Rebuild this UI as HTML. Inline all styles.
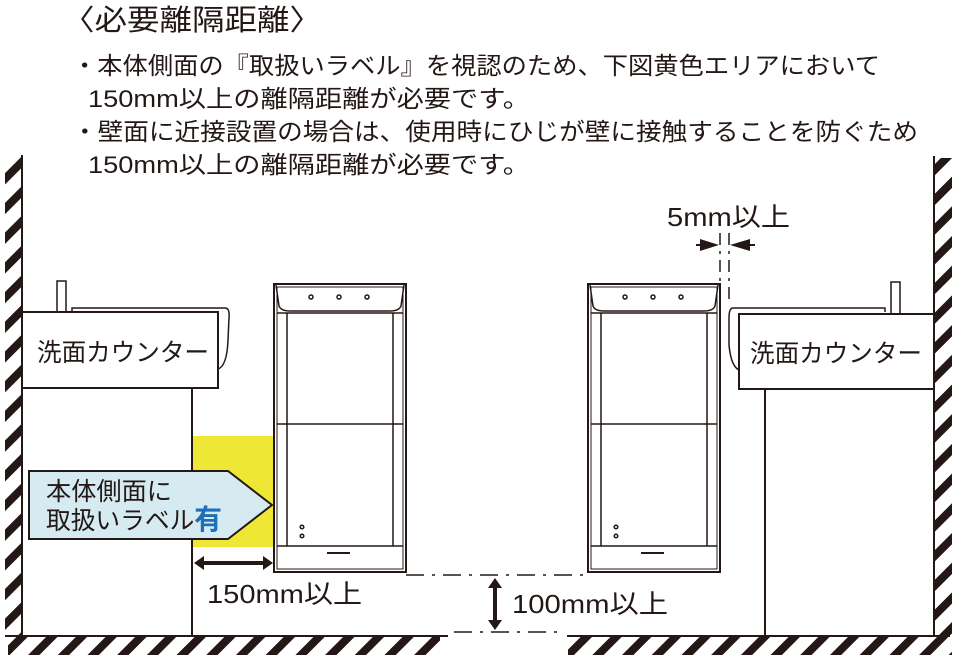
<!DOCTYPE html>
<html><head><meta charset="utf-8"><style>
html,body{margin:0;padding:0;background:#fff;}
svg{display:block;}
text{font-family:"Liberation Sans","Noto Sans CJK JP",sans-serif;fill:#231815;}
</style></head><body>
<svg width="956" height="657" viewBox="0 0 956 657" xmlns="http://www.w3.org/2000/svg">
<defs>
<pattern id="h" width="21" height="21" patternUnits="userSpaceOnUse" patternTransform="rotate(45)">
<rect x="0" y="0" width="8" height="21" fill="#231815"/>
</pattern>
</defs>
<text x="62" y="30" font-size="29" textLength="260" lengthAdjust="spacingAndGlyphs">〈必要離隔距離〉</text>
<text x="72" y="74" font-size="24" textLength="808" lengthAdjust="spacingAndGlyphs">・本体側面の『取扱いラベル』を視認のため、下図黄色エリアにおいて</text>
<text x="88" y="107" font-size="24" textLength="442" lengthAdjust="spacingAndGlyphs">150mm以上の離隔距離が必要です。</text>
<text x="72" y="140" font-size="24" textLength="846" lengthAdjust="spacingAndGlyphs">・壁面に近接設置の場合は、使用時にひじが壁に接触することを防ぐため</text>
<text x="88" y="173" font-size="24" textLength="442" lengthAdjust="spacingAndGlyphs">150mm以上の離隔距離が必要です。</text>

<!-- walls -->
<rect x="5" y="157" width="17" height="478" fill="url(#h)"/>
<line x1="22" y1="155" x2="22" y2="636" stroke="#231815" stroke-width="2"/>
<rect x="935" y="158" width="17" height="477" fill="url(#h)"/>
<line x1="934" y1="156" x2="934" y2="636" stroke="#231815" stroke-width="2"/>
<!-- floors -->
<rect x="8" y="637" width="432" height="18" fill="url(#h)"/>
<line x1="5" y1="636" x2="448" y2="636" stroke="#231815" stroke-width="2"/>
<rect x="568" y="637" width="384" height="18" fill="url(#h)"/>
<line x1="567" y1="636" x2="950" y2="636" stroke="#231815" stroke-width="2"/>

<!-- left counter -->
<rect x="57" y="281" width="9" height="32" fill="#fff" stroke="#231815" stroke-width="1.5"/>
<path d="M72 313 L72 308 L225 308 Q230 308 229 318 L228 340 Q227 366 218 369" fill="#fff" stroke="#231815" stroke-width="1.5"/>
<rect x="22" y="312" width="196" height="76" fill="#fff" stroke="#231815" stroke-width="2"/>
<text x="37" y="361" font-size="25" textLength="172" lengthAdjust="spacingAndGlyphs">洗面カウンター</text>
<line x1="192" y1="388" x2="192" y2="636" stroke="#231815" stroke-width="2"/>

<!-- yellow -->
<rect x="193" y="436" width="81" height="111" fill="#efe736"/>
<polygon points="29,471 228,471 272,505 228,539 29,539" fill="#d6ebf1" stroke="#231815" stroke-width="2"/>
<text x="46" y="500" font-size="25" textLength="126" lengthAdjust="spacingAndGlyphs">本体側面に</text>
<text x="46" y="529" font-size="25" textLength="176" lengthAdjust="spacingAndGlyphs">取扱いラベル<tspan fill="#1d6fb8" font-weight="bold" font-size="28">有</tspan></text>

<!-- 150 arrow -->
<line x1="202" y1="563" x2="266" y2="563" stroke="#231815" stroke-width="4"/>
<polygon points="194,563 204,556 204,570" fill="#231815"/>
<polygon points="273,563 263,556 263,570" fill="#231815"/>
<text x="207" y="603" font-size="26" textLength="155" lengthAdjust="spacingAndGlyphs">150mm以上</text>

<!-- units -->
<g id="u" fill="none" stroke="#231815" stroke-width="1.5">
<rect x="274" y="284" width="132" height="288" stroke-width="2"/>
<rect x="277" y="287" width="126" height="282" stroke-width="1"/>
<path d="M276 285 L279 306 Q281 311 290 311 L390 311 Q399 311 401 306 L404 285"/>
<line x1="277" y1="313" x2="403" y2="313"/>
<line x1="287" y1="313" x2="287" y2="546"/>
<line x1="393" y1="313" x2="393" y2="546"/>
<line x1="277" y1="424" x2="403" y2="424"/>
<line x1="277" y1="546" x2="403" y2="546"/>
<line x1="327" y1="553" x2="350" y2="553" stroke-width="2"/>
<circle cx="311" cy="297" r="2"/><circle cx="339" cy="297" r="2"/><circle cx="367" cy="297" r="2"/>
<circle cx="302" cy="527" r="1.8"/><circle cx="302" cy="536" r="1.8"/>
</g>
<use href="#u" x="314"/>

<!-- 100 dims -->
<line x1="406" y1="575" x2="588" y2="575" stroke="#231815" stroke-width="1.5" stroke-dasharray="18,8,3,8"/>
<line x1="454" y1="632" x2="560" y2="632" stroke="#231815" stroke-width="1.5" stroke-dasharray="18,8,3,8"/>
<line x1="495" y1="586" x2="495" y2="622" stroke="#231815" stroke-width="4"/>
<polygon points="495,578 488,588 502,588" fill="#231815"/>
<polygon points="495,630 488,620 502,620" fill="#231815"/>
<text x="512" y="613" font-size="26" textLength="156" lengthAdjust="spacingAndGlyphs">100mm以上</text>

<!-- 5mm -->
<text x="667" y="226" font-size="26" textLength="123" lengthAdjust="spacingAndGlyphs">5mm以上</text>
<line x1="720" y1="233" x2="720" y2="345" stroke="#231815" stroke-width="1.5" stroke-dasharray="12,6,3,6"/>
<line x1="729" y1="233" x2="729" y2="300" stroke="#231815" stroke-width="1.5" stroke-dasharray="12,6,3,6"/>
<line x1="696" y1="245" x2="705" y2="245" stroke="#231815" stroke-width="2"/>
<polygon points="719,245 700,239 700,251" fill="#231815"/>
<line x1="745" y1="245" x2="755" y2="245" stroke="#231815" stroke-width="2"/>
<polygon points="730,245 750,239 750,251" fill="#231815"/>

<!-- right counter -->
<rect x="891" y="282" width="9" height="32" fill="#fff" stroke="#231815" stroke-width="1.5"/>
<path d="M885 312 L885 308 L733 308 Q729 308 729 318 L729 345 Q731 368 741 371" fill="#fff" stroke="#231815" stroke-width="1.5"/>
<rect x="739" y="314" width="195" height="75" fill="#fff" stroke="#231815" stroke-width="2"/>
<text x="750" y="362" font-size="25" textLength="172" lengthAdjust="spacingAndGlyphs">洗面カウンター</text>
<line x1="765" y1="389" x2="765" y2="636" stroke="#231815" stroke-width="2"/>
</svg>
</body></html>
